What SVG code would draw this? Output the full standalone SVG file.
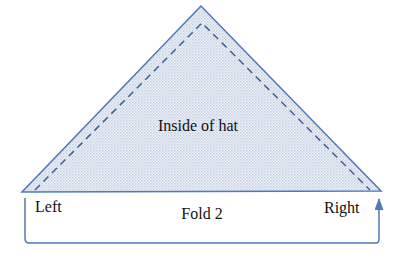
<svg xmlns="http://www.w3.org/2000/svg" width="396" height="269" viewBox="0 0 396 269">
<style>
.edge{fill:none;stroke:#4f78b8;stroke-width:1.5}
.lbl{font-family:"Liberation Serif",serif;font-size:16px;fill:#111}
</style>
<defs>
<pattern id="dots" width="3" height="3" patternUnits="userSpaceOnUse">
<rect width="3" height="3" fill="#eef1f7"/>
<rect width="1.5" height="1.5" fill="#c3cee0"/>
<rect x="1.5" y="1.5" width="1.5" height="1.5" fill="#d2dbe9"/>
</pattern>
<marker id="arr" viewBox="0 0 12 9" refX="11" refY="4.5" markerWidth="12" markerHeight="9" orient="auto" markerUnits="userSpaceOnUse">
<path d="M0,0 L12,4.5 L0,9 Z" fill="#4f78b8"/>
</marker>
</defs>
<g id="hat">
<polygon points="201,6 22,192 381,191" fill="url(#dots)" stroke="#4f78b8" stroke-width="1.5"/>
<polyline points="35,190 202,23 370,190" fill="none" stroke="#3f5f94" stroke-width="1.5" stroke-dasharray="7,5"/>
<text class="lbl" x="198" y="131" text-anchor="middle">Inside of hat</text>
</g>
<g id="left"><text class="lbl" x="35" y="212">Left</text></g>
<g id="right"><text class="lbl" x="324" y="213">Right</text></g>
<g id="fold"><text class="lbl" x="202" y="219" text-anchor="middle">Fold 2</text></g>
<g id="connectors">
<path class="edge" d="M25,198 L25,238 Q25,243 29,243 L376,243 Q379,243 379,239 L379,199" marker-end="url(#arr)"/>
</g>
</svg>
